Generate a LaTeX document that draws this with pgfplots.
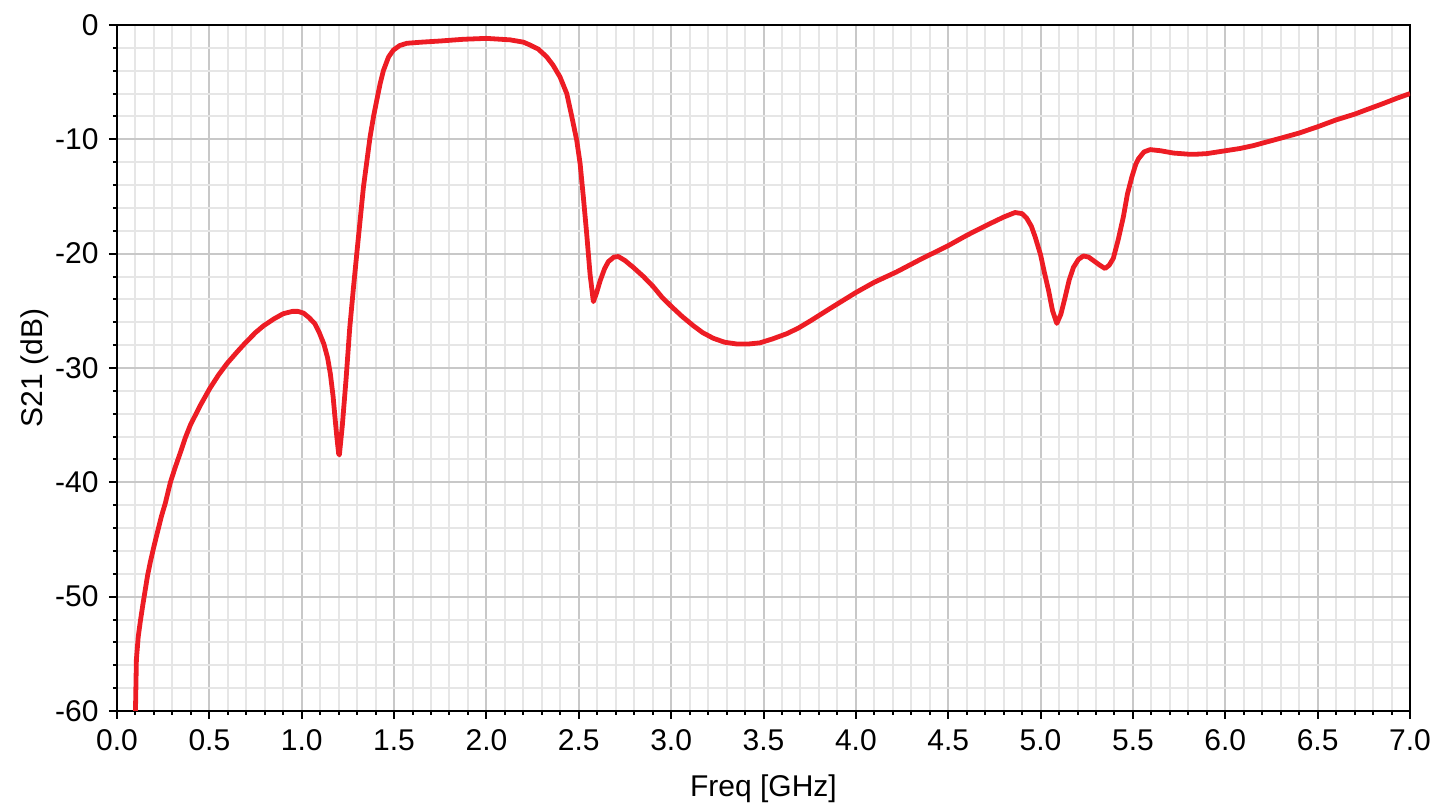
\documentclass[border=0pt]{standalone}
\usepackage{fontspec}
\setmainfont{Liberation Sans}
\usepackage{pgfplots}
\pgfplotsset{compat=1.18}
\definecolor{curvered}{RGB}{237,28,36}
\definecolor{majgrid}{RGB}{200,200,200}
\definecolor{mingrid}{RGB}{230,230,230}
\pgfplotstableread{
f y
0.100 -60
0.105 -55.5
0.115 -53.5
0.126 -52.2
0.140 -50.7
0.153 -49.4
0.165 -48.2
0.180 -47.0
0.200 -45.6
0.217 -44.5
0.240 -43.0
0.262 -41.8
0.289 -40.0
0.315 -38.7
0.343 -37.4
0.370 -36.1
0.397 -35.0
0.450 -33.3
0.502 -31.8
0.550 -30.6
0.596 -29.6
0.650 -28.6
0.695 -27.8
0.750 -26.9
0.794 -26.3
0.850 -25.7
0.900 -25.25
0.950 -25.05
0.980 -25.05
1.010 -25.2
1.040 -25.6
1.070 -26.1
1.095 -26.9
1.120 -27.9
1.140 -29.1
1.155 -30.5
1.170 -32.5
1.180 -34.3
1.190 -36.0
1.200 -37.5
1.204 -37.6
1.220 -35.0
1.240 -31.0
1.260 -26.5
1.280 -23.0
1.300 -19.7
1.334 -14.2
1.370 -9.8
1.390 -7.9
1.406 -6.6
1.425 -5.1
1.442 -4.0
1.470 -2.8
1.496 -2.2
1.530 -1.8
1.569 -1.6
1.650 -1.5
1.750 -1.4
1.875 -1.25
2.000 -1.17
2.128 -1.3
2.200 -1.5
2.236 -1.75
2.280 -2.1
2.326 -2.78
2.360 -3.5
2.398 -4.53
2.435 -6.0
2.462 -8.0
2.489 -10.1
2.507 -12.1
2.525 -15.1
2.543 -18.3
2.561 -21.8
2.579 -24.2
2.595 -23.5
2.615 -22.4
2.640 -21.3
2.660 -20.7
2.690 -20.3
2.714 -20.25
2.750 -20.6
2.795 -21.2
2.850 -22.0
2.904 -22.9
2.950 -23.8
3.000 -24.6
3.060 -25.5
3.120 -26.3
3.170 -26.9
3.228 -27.4
3.290 -27.75
3.355 -27.9
3.420 -27.9
3.481 -27.8
3.550 -27.45
3.626 -27.0
3.690 -26.5
3.752 -25.9
3.850 -24.9
4.000 -23.4
4.100 -22.5
4.220 -21.6
4.350 -20.5
4.500 -19.3
4.600 -18.4
4.710 -17.5
4.800 -16.8
4.862 -16.4
4.900 -16.5
4.925 -16.9
4.950 -17.6
4.970 -18.5
5.000 -20.1
5.020 -21.6
5.043 -23.2
5.065 -25.0
5.088 -26.1
5.110 -25.3
5.133 -23.8
5.155 -22.3
5.178 -21.2
5.205 -20.5
5.232 -20.2
5.260 -20.3
5.286 -20.6
5.320 -21.0
5.349 -21.3
5.372 -21.0
5.394 -20.4
5.420 -18.8
5.448 -16.8
5.470 -14.8
5.494 -13.3
5.515 -12.2
5.530 -11.7
5.560 -11.1
5.593 -10.9
5.650 -11.0
5.719 -11.2
5.800 -11.3
5.846 -11.3
5.900 -11.25
6.000 -11.0
6.080 -10.8
6.152 -10.55
6.220 -10.25
6.300 -9.9
6.400 -9.45
6.500 -8.9
6.600 -8.3
6.700 -7.8
6.766 -7.4
6.850 -6.9
6.930 -6.4
7.000 -6.0
}\sparam
\begin{document}
\fontsize{15}{18}\selectfont
\begin{tikzpicture}
\begin{axis}[
  scale only axis, width=646.5pt, height=343pt,
  xmin=0, xmax=7, ymin=-60, ymax=0,
  xtick={0,0.5,1,1.5,2,2.5,3,3.5,4,4.5,5,5.5,6,6.5,7},
  ytick={-60,-50,-40,-30,-20,-10,0},
  minor x tick num=4, minor y tick num=4,
  grid=both,
  major grid style={majgrid, line width=1pt},
  minor grid style={mingrid, line width=1pt},
  axis line style={black, line width=1pt},
  tick style={black, line width=1pt},
  tick align=outside,
  major tick length=4pt, minor tick length=2pt,
  xtick pos=bottom, ytick pos=left,
  xticklabel style={/pgf/number format/.cd, fixed, fixed zerofill, precision=1},
  /pgf/number format/assume math mode=true,
  ticklabel style={font=\fontsize{15}{18}\selectfont},
  label style={font=\fontsize{15}{18}\selectfont},
  xlabel={Freq [GHz]}, ylabel={S21 (dB)},
  xlabel style={yshift=-2pt},
  ylabel style={yshift=-7pt},
]
\addplot[curvered, line width=2.4pt, line join=round, no marks] table[x=f, y=y] {\sparam};
\end{axis}
\pgfresetboundingbox
\path[use as bounding box] ([xshift=-58.5pt,yshift=-47pt]current axis.south west) rectangle ([xshift=17.5pt,yshift=12.5pt]current axis.north east);
\end{tikzpicture}
\end{document}
